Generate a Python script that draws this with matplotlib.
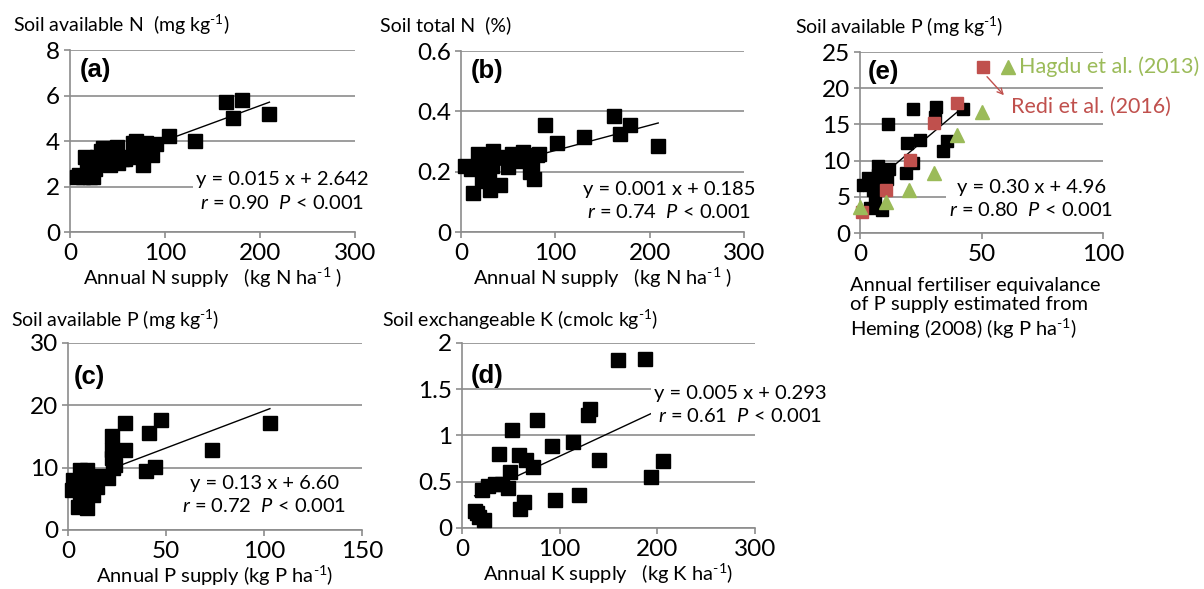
import matplotlib
matplotlib.use('Agg')
import matplotlib.pyplot as plt
import numpy as np
from matplotlib.ticker import FuncFormatter

plt.rcParams['font.family'] = ['Lato', 'DejaVu Sans']
plt.rcParams['mathtext.fontset'] = 'custom'
plt.rcParams['mathtext.rm'] = 'Lato'
plt.rcParams['mathtext.it'] = 'Lato:italic'
plt.rcParams['mathtext.bf'] = 'Lato:bold'

# (a) soil available N vs annual N supply
a_x = [7, 10, 14, 16, 18, 21, 24, 26, 28, 30, 33, 35, 38, 42, 46, 49, 51, 55,
       58, 62, 66, 70, 75, 77, 80, 82, 86, 91, 104, 132, 164, 172, 181, 210]
a_y = [2.4, 2.5, 2.4, 3.3, 2.7, 2.4, 2.4, 2.75, 3.3, 3.1, 3.55, 3.7, 3.0, 2.95,
       3.1, 3.75, 3.05, 3.2, 3.2, 3.3, 3.9, 4.0, 3.5, 2.95, 3.9, 3.7, 3.4, 3.85,
       4.2, 4.0, 5.7, 5.0, 5.8, 5.2]

# (b) soil total N vs annual N supply
b_x = [4, 11, 13, 18, 20, 22, 25, 28, 30, 31, 33, 34, 41, 48, 50, 54, 59, 66,
       73, 75, 77, 81, 83, 89, 102, 130, 162, 169, 179, 209]
b_y = [0.22, 0.21, 0.13, 0.26, 0.24, 0.17, 0.20, 0.23, 0.19, 0.14, 0.22, 0.27,
       0.155, 0.25, 0.215, 0.26, 0.235, 0.265, 0.20, 0.225, 0.175, 0.255, 0.26,
       0.355, 0.295, 0.315, 0.385, 0.325, 0.355, 0.285]

# (c) soil available P vs annual P supply
c_x = [1.9, 2.7, 4, 5.3, 6.1, 6.1, 7.8, 8.5, 9.5, 9.5, 11.2, 12.9, 14.6, 16.3,
       20.6, 22.3, 22.3, 22.3, 23, 24, 29, 29, 40, 41.5, 44.4, 47.4, 73.3, 103]
c_y = [6.4, 8.0, 7.2, 3.7, 5.9, 9.6, 7.5, 8.5, 9.7, 3.5, 8.0, 5.6, 6.95, 8.6,
       8.3, 15.0, 12.8, 11.5, 9.9, 10.5, 17.2, 12.8, 9.4, 15.6, 10.1, 17.7, 12.8,
       17.1]

# (d) soil exchangeable K vs annual K supply
d_x = [13, 15, 17, 20, 23, 27, 34, 38, 41, 47, 49, 51, 58, 59, 64, 66, 73, 77,
       92, 95, 114, 120, 129, 131, 140, 160, 187, 194, 206]
d_y = [0.18, 0.16, 0.12, 0.41, 0.09, 0.45, 0.48, 0.80, 0.48, 0.43, 0.60, 1.06,
       0.79, 0.21, 0.28, 0.74, 0.66, 1.17, 0.89, 0.30, 0.93, 0.36, 1.22, 1.29,
       0.73, 1.82, 1.83, 0.55, 0.72]

# (e) soil available P vs fertiliser equivalence (Heming 2008)
e_x = [1.4, 3.4, 4.1, 5.5, 6.2, 6.2, 7.5, 7.5, 8.9, 10, 11, 11.7, 12, 19, 19.2,
       21.7, 22, 24.7, 31, 31.3, 34, 36, 42.5]
e_y = [6.6, 7.55, 3.4, 5.9, 5.0, 7.4, 8.0, 9.25, 3.2, 7.8, 7.4, 15.0, 8.9, 8.3,
       12.5, 9.7, 17.1, 12.8, 16.0, 17.4, 11.3, 12.7, 17.1]
redi_x = [0.7, 10.6, 20.6, 30.5, 40]
redi_y = [2.95, 5.9, 10.1, 15.2, 18.0]
hagdu_x = [0, 10.7, 20.3, 30.5, 39.8, 50]
hagdu_y = [3.6, 4.3, 5.9, 8.25, 13.5, 16.75]

GRID = '#8c8c8c'
RED = '#c0504d'
GREEN = '#9bbb59'
INV = '$^{\u2010 1}$'  # superscript -1 with a short hyphen
fmt = FuncFormatter(lambda v, p: '%g' % v)

fig = plt.figure(figsize=(12.04, 5.89), dpi=100)


def make_axes(rect, xticks, yticks):
    ax = fig.add_axes(rect)
    ax.set_xlim(xticks[0], xticks[-1])
    ax.set_ylim(yticks[0], yticks[-1])
    ax.set_xticks(xticks)
    ax.set_yticks(yticks)
    ax.xaxis.set_major_formatter(fmt)
    ax.yaxis.set_major_formatter(fmt)
    for s in ['top', 'right']:
        ax.spines[s].set_visible(False)
    for s in ['left', 'bottom']:
        ax.spines[s].set_color(GRID)
        ax.spines[s].set_linewidth(1.2)
    ax.tick_params(length=4, width=1.2, color=GRID, labelsize=17.5, pad=3)
    ax.tick_params(axis='x', pad=4)
    ax.yaxis.grid(True, color=GRID, linewidth=1.2)
    ax.set_axisbelow(True)
    ax.patch.set_alpha(0)
    return ax


def scatter_fit(ax, x, y, ms=10):
    x = np.array(x)
    y = np.array(y)
    k, b = np.polyfit(x, y, 1)
    xs = np.array([x.min(), x.max()])
    ax.plot(xs, k * xs + b, color='black', lw=1, zorder=3)
    ax.plot(x, y, 's', color='black', ms=ms, zorder=4, clip_on=False)


def equation(ax, x, y, txt):
    ax.text(x, y, txt, transform=ax.transAxes, ha='center', va='center',
            multialignment='center', fontsize=14.5, linespacing=1.35,
            bbox=dict(fc='white', ec='none', pad=2), zorder=5, clip_on=False)


def panel_label(ax, x, y, lab):
    ax.text(x, y, lab, transform=ax.transAxes, fontsize=18.5, fontweight='bold',
            family='Liberation Sans', ha='left', va='center')


# (a)
ax = make_axes([0.0581, 0.6061, 0.2367, 0.309], [0, 100, 200, 300], [0, 2, 4, 6, 8])
scatter_fit(ax, a_x, a_y)
equation(ax, 0.745, 0.222, 'y = 0.015 x + 2.642\n$r$ = 0.90  $P$ < 0.001')
panel_label(ax, 0.035, 0.89, '(a)')
ax.set_xlabel('Annual N supply   (kg N ha' + INV + ' )', fontsize=14.5, labelpad=1)
fig.text(0.011, 0.957, 'Soil available N  (mg kg' + INV + ')', fontsize=14, va='center')

# (b)
ax = make_axes([0.3829, 0.6061, 0.2351, 0.3073], [0, 100, 200, 300], [0, 0.2, 0.4, 0.6])
scatter_fit(ax, b_x, b_y)
equation(ax, 0.735, 0.171, 'y = 0.001 x + 0.185\n$r$ = 0.74  $P$ < 0.001')
panel_label(ax, 0.035, 0.89, '(b)')
ax.set_xlabel('Annual N supply   (kg N ha' + INV + ' )', fontsize=14.5, labelpad=1)
fig.text(0.316, 0.957, 'Soil total N  (%)', fontsize=14, va='center')

# (e)
ax = make_axes([0.7143, 0.6044, 0.2018, 0.3073], [0, 50, 100], [0, 5, 10, 15, 20, 25])
scatter_fit(ax, e_x, e_y, ms=8.5)
ax.plot(redi_x, redi_y, 's', color=RED, ms=8.5, zorder=5, clip_on=False)
ax.plot(hagdu_x, hagdu_y, '^', color=GREEN, ms=10, zorder=5, clip_on=False)
equation(ax, 0.704, 0.188, 'y = 0.30 x + 4.96\n$r$ = 0.80  $P$ < 0.001')
panel_label(ax, 0.03, 0.89, '(e)')
ax.plot([0.506], [0.917], 's', color=RED, ms=8.5, transform=ax.transAxes, clip_on=False)
ax.plot([0.609], [0.917], '^', color=GREEN, ms=10, transform=ax.transAxes, clip_on=False)
ax.text(0.655, 0.917, 'Hagdu et al. (2013)', color=GREEN, fontsize=15.5,
        transform=ax.transAxes, va='center', ha='left', clip_on=False)
ax.text(0.623, 0.696, 'Redi et al. (2016)', color=RED, fontsize=15.5,
        transform=ax.transAxes, va='center', ha='left', clip_on=False)
ax.annotate('', xy=(0.6, 0.75), xytext=(0.515, 0.875), xycoords='axes fraction',
            arrowprops=dict(arrowstyle='->', color=RED, lw=1))
ax.set_xlabel('Annual fertiliser equivalance\nof P supply estimated from\n'
              'Heming (2008) (kg P ha' + INV + ')', fontsize=14.5,
              ha='left', linespacing=1.15)
ax.xaxis.set_label_coords(-0.04, -0.245)
ax.xaxis.label.set_va('top')
fig.text(0.66, 0.954, 'Soil available P (mg kg' + INV + ')', fontsize=14, va='center')

# (c)
ax = make_axes([0.0565, 0.1002, 0.2442, 0.3175], [0, 50, 100, 150], [0, 10, 20, 30])
scatter_fit(ax, c_x, c_y)
equation(ax, 0.667, 0.187, 'y = 0.13 x + 6.60\n$r$ = 0.72  $P$ < 0.001')
panel_label(ax, 0.02, 0.82, '(c)')
ax.set_xlabel('Annual P supply (kg P ha' + INV + ')', fontsize=14.5, labelpad=1)
fig.text(0.009, 0.457, 'Soil available P (mg kg' + INV + ')', fontsize=14, va='center')

# (d)
ax = make_axes([0.3837, 0.1036, 0.2434, 0.3141], [0, 100, 200, 300], [0, 0.5, 1, 1.5, 2])
scatter_fit(ax, d_x, d_y)
equation(ax, 0.949, 0.665, 'y = 0.005 x + 0.293\n$r$ = 0.61  $P$ < 0.001')
panel_label(ax, 0.03, 0.82, '(d)')
ax.set_xlabel('Annual K supply   (kg K ha' + INV + ')', fontsize=14.5, labelpad=1)
fig.text(0.317, 0.457, 'Soil exchangeable K (cmolc kg' + INV + ')', fontsize=14, va='center')

fig.savefig('out.png', dpi=100)
